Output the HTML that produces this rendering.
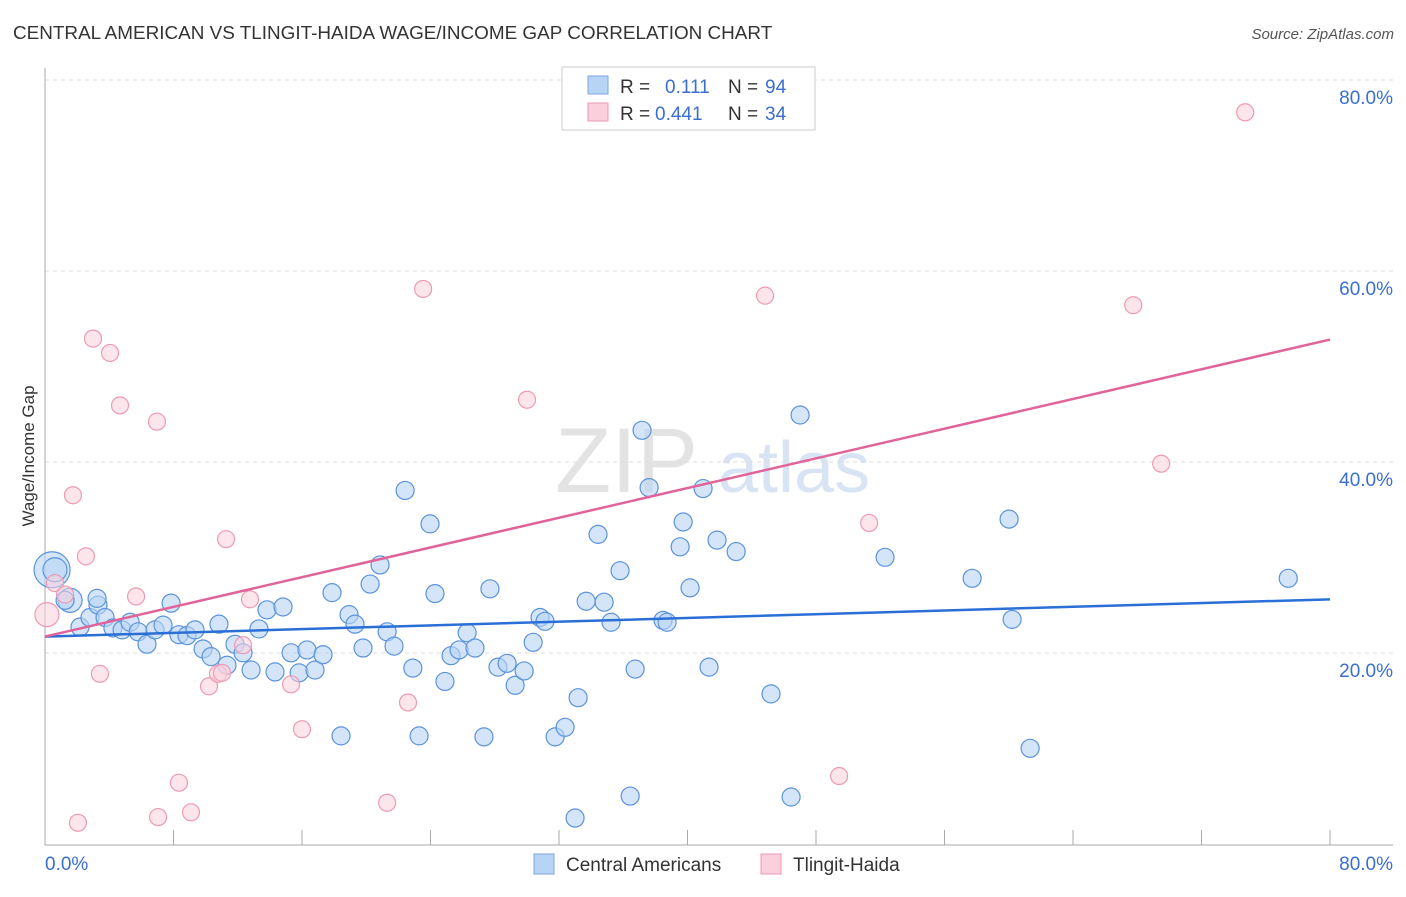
<!DOCTYPE html>
<html><head><meta charset="utf-8"><style>
body{margin:0;background:#fff;font-family:"Liberation Sans",sans-serif;}
svg text{font-family:"Liberation Sans",sans-serif;}
</style></head><body>
<svg id="chart" width="1406" height="892" xmlns="http://www.w3.org/2000/svg">
<text x="13" y="39" font-size="18.9" fill="#333">CENTRAL AMERICAN VS TLINGIT-HAIDA WAGE/INCOME GAP CORRELATION CHART</text>
<text x="1394" y="39" font-size="15" fill="#555" text-anchor="end" font-style="italic">Source: ZipAtlas.com</text>
<g><text x="555" y="492" font-size="92" fill="#ddd" font-family="Liberation Serif" opacity="0.8">ZIP</text><text x="718" y="492" font-size="72" fill="#c8daf0" opacity="0.7">atlas</text></g>
<g id="grid"></g>
<g id="axes"></g>
<g id="pts"></g>
<g id="lines"></g>
<g>
<rect x="562" y="67" width="253" height="63" fill="#fff" stroke="#ccc"/>
<rect x="588" y="76" width="20" height="18" fill="#b8d4f5" stroke="#7aa8e0"/>
<text x="620" y="93" font-size="19" fill="#333">R = </text><text x="665" y="93" font-size="19" fill="#3a6fd0">0.111</text>
<text x="728" y="93" font-size="19" fill="#333">N = </text><text x="765" y="93" font-size="19" fill="#3a6fd0">94</text>
<rect x="588" y="103" width="20" height="18" fill="#fbcfdc" stroke="#ee9ab4"/>
<text x="620" y="120" font-size="19" fill="#333">R = </text><text x="655" y="120" font-size="19" fill="#3a6fd0">0.441</text>
<text x="728" y="120" font-size="19" fill="#333">N = </text><text x="765" y="120" font-size="19" fill="#3a6fd0">34</text>
</g>
<g>
<rect x="534" y="854" width="20" height="20" fill="#b8d4f5" stroke="#7aa8e0"/>
<text x="566" y="871" font-size="19" fill="#333">Central Americans</text>
<rect x="761" y="854" width="20" height="20" fill="#fbcfdc" stroke="#ee9ab4"/>
<text x="793" y="871" font-size="19" fill="#333">Tlingit-Haida</text>
</g>
<text transform="translate(34,456) rotate(-90)" font-size="17" fill="#333" text-anchor="middle">Wage/Income Gap</text>
</svg>
<script>
const blueX=[0.44,0.62,1.56,1.25,2.18,2.8,3.3,3.74,4.23,4.8,5.3,5.8,6.35,6.85,7.35,7.85,8.34,8.84,9.34,9.84,10.34,10.83,11.33,11.83,12.33,12.83,13.32,13.82,14.32,14.82,15.32,15.82,16.31,16.81,17.31,17.87,18.43,18.93,19.3,19.8,20.24,20.86,21.3,21.73,22.42,22.9,23.29,23.97,24.28,24.9,25.28,25.78,26.28,26.77,27.33,27.7,28.2,28.77,29.27,29.83,30.39,30.82,31.13,31.76,32.38,33.0,33.19,33.69,34.43,34.81,35.24,35.8,36.43,36.74,37.17,37.61,38.48,38.73,39.54,39.73,40.16,40.97,41.34,41.84,43.03,45.2,46.45,47.01,52.3,57.72,60.02,60.21,61.33,77.4,3.24];
const blueY=[30.5,30.5,27.3,27.3,24.5,25.5,26.8,25.5,24.4,24.2,25.0,24.0,22.7,24.2,24.7,27.0,23.7,23.6,24.2,22.2,21.4,24.8,20.5,22.7,21.8,20.0,24.3,26.3,19.8,26.6,21.8,19.7,22.1,20.0,21.6,28.1,13.1,25.8,24.8,22.3,29.0,31.0,24.0,22.5,38.8,20.2,13.1,35.3,28.0,18.8,21.5,22.1,23.9,22.3,13.0,28.5,20.3,20.7,18.4,19.9,22.9,25.5,25.1,13.0,14.0,4.5,17.1,27.2,34.2,27.1,25.0,30.4,6.8,20.1,45.1,39.1,25.2,25.0,32.9,35.5,28.6,39.0,20.3,33.6,32.4,17.5,6.7,46.7,31.8,29.6,35.8,25.3,11.8,29.6,27.5];
const pinkX=[0.12,0.62,1.25,1.74,2.05,2.55,2.99,3.42,4.05,4.67,5.67,6.97,7.04,8.34,9.09,10.21,10.77,11.02,11.27,12.33,12.76,15.32,16.0,21.3,22.6,23.54,30.01,44.83,49.44,51.31,67.75,69.49,74.72];
const pinkY=[25.8,29.1,27.9,38.3,4.0,31.9,54.7,19.6,53.2,47.7,27.7,46.0,4.6,8.2,5.1,18.3,19.6,19.7,33.7,22.6,27.4,18.5,13.8,6.1,16.6,59.9,48.3,59.2,8.9,35.4,58.2,41.6,78.4];
const trendBlue=[23.5,27.4];
const trendPink=[23.5,54.6];
const yTicks=[20,40,60,80];
const xTicks=[0,8,16,24,32,40,48,56,64,72,80];
const NS="http://www.w3.org/2000/svg";
const X=v=>45+v*1285/80, Y=v=>861-v*9.55;
function mk(p,t,a){const e=document.createElementNS(NS,t);for(const k in a)e.setAttribute(k,a[k]);document.getElementById(p).appendChild(e);return e;}
yTicks.forEach(t=>{const l=mk('grid','line',{x1:45,x2:1393,y1:Y(t)-17,y2:Y(t)-17,stroke:'#ddd','stroke-dasharray':'4,4'});

const tx=mk('axes','text',{x:1393,y:Y(t)+7,'font-size':19,fill:'#3a6fd0','text-anchor':'end'});tx.textContent=t.toFixed(1)+'%';
});
let ax=mk('axes','line',{x1:45,x2:45,y1:68,y2:845,stroke:'#aaa'});
ax=mk('axes','line',{x1:45,x2:1393,y1:845,y2:845,stroke:'#aaa'});
xTicks.forEach(t=>{const l=mk('axes','line',{x1:X(t),x2:X(t),y1:830,y2:845,stroke:'#aaa'});});
let t0=mk('axes','text',{x:45,y:870,'font-size':19,fill:'#3a6fd0'});t0.textContent='0.0%';
let t1=mk('axes','text',{x:1393,y:870,'font-size':19,fill:'#3a6fd0','text-anchor':'end'});t1.textContent='80.0%';
blueX.forEach((v,i)=>{const c=mk('pts','circle',{cx:X(v),cy:Y(blueY[i]),r:i==0?18:(i<3?12:9),fill:'#b8d4f5','fill-opacity':0.6,stroke:'#5b93dc','stroke-width':1.2});
});
pinkX.forEach((v,i)=>{const c=mk('pts','circle',{cx:X(v),cy:Y(pinkY[i]),r:i==0?12:8.5,fill:'#fbcfdc','fill-opacity':0.55,stroke:'#ee9ab4','stroke-width':1.2});
});
let lb=mk('lines','line',{x1:X(0),y1:Y(trendBlue[0]),x2:X(80),y2:Y(trendBlue[1]),stroke:'#2a6fd6','stroke-width':2.5});

let lp=mk('lines','line',{x1:X(0),y1:Y(trendPink[0]),x2:X(80),y2:Y(trendPink[1]),stroke:'#e0649a','stroke-width':2.5});

</script>
</body></html>
